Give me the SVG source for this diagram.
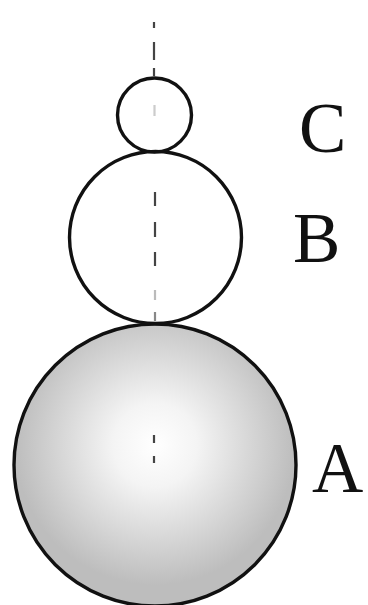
<svg xmlns="http://www.w3.org/2000/svg" width="368" height="605" viewBox="0 0 368 605">
<style>
.ring{fill:none;stroke:#111;stroke-width:3.4}
.axis{stroke:#444;stroke-width:2.2;fill:none}
.lbl{font-family:"Liberation Serif","Times New Roman",serif;font-size:71px;fill:#111}
</style>
<defs>
<radialGradient id="gA" cx="155" cy="445" r="140" gradientUnits="userSpaceOnUse">
<stop offset="0" stop-color="#ffffff"/>
<stop offset="0.3" stop-color="#f4f4f4"/>
<stop offset="1" stop-color="#bdbdbd"/>
</radialGradient>
</defs>
<rect width="368" height="605" fill="#fff"/>
<g id="nodeA">
<circle cx="155" cy="465" r="141" class="ring" style="fill:url(#gA)"/>
<text class="lbl" x="312" y="492">A</text>
</g>
<g id="nodeB">
<circle cx="155.5" cy="237.5" r="86" class="ring"/>
<text class="lbl" x="293" y="262">B</text>
</g>
<g id="nodeC">
<circle cx="154.5" cy="115" r="37" class="ring"/>
<text class="lbl" x="299" y="152">C</text>
</g>
<g id="connectors">
<line class="axis" x1="154" y1="22" x2="154" y2="28"/>
<line class="axis" x1="154" y1="42" x2="154" y2="60"/>
<line class="axis" x1="154" y1="68" x2="154" y2="76"/>
<line class="axis" x1="154.5" y1="105" x2="154.5" y2="116" style="stroke:#ccc"/>
<line class="axis" x1="155" y1="192" x2="155" y2="206"/>
<line class="axis" x1="155" y1="222" x2="155" y2="237"/>
<line class="axis" x1="155" y1="252" x2="155" y2="266"/>
<line class="axis" x1="155" y1="290" x2="155" y2="300" style="stroke:#bbb"/>
<line class="axis" x1="155" y1="312" x2="155" y2="321" style="stroke:#888"/>
<line class="axis" x1="154" y1="435" x2="154" y2="443"/>
<line class="axis" x1="154" y1="456" x2="154" y2="463"/>
</g>
</svg>
